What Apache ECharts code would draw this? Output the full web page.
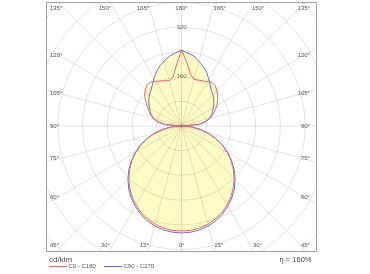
<!DOCTYPE html>
<html><head><meta charset="utf-8">
<script src="https://cdn.jsdelivr.net/npm/echarts@6/dist/echarts.min.js"></script>
<style>html,body{margin:0;padding:0;background:#fff}#c{width:370px;height:274px}</style>
</head><body><div id="c"></div>
<script>
// gamma angles (0 = down, 180 = up), step 5
const gammaDeg = [0,5,10,15,20,25,30,35,40,45,50,55,60,65,70,75,80,85,90,95,100,105,110,115,120,125,130,135,140,145,150,155,160,165,170,175,180];
// cd/klm values
const c0   = [340,339,335,329,320,309,295,279,261,241,219,196,171,145,117,89,60,31,4,54,78,95,106,117,128,142,156,166,174,174,167,161,156,152,160,195,246];
const c180 = [340,339,335,329,320,309,295,279,261,241,219,196,171,145,117,89,60,31,4,54,79,96,108,120,132,143,153,162,170,172,166,161,158,156,170,205,246];
const c90  = [346,345,341,335,326,314,300,284,266,245,223,199,174,147,119,90,61,32,4,55,78,93,104,112,120,129,138,146,153,164,178,193,206,218,229,237,246];
const c270 = [346,345,341,335,326,314,300,284,266,245,223,199,174,147,119,90,61,32,4,55,79,92,103,111,119,128,136,144,150,162,176,192,205,217,230,237,246];
const radiusTicks = [160, 320];
const angleTicks = [0,15,30,45,60,75,90,105,120,135,150,165,180];
const seriesNames = ['C0 - C180', 'C90 - C270'];
const effText = 'η = 160%';
const unitText = 'cd/klm';

const RED = '#e46a78', BLUE = '#6f6fd6', FILL = '#fffbc4', TXT = '#555';
const box = {l: 46.5, t: 2.5, r: 316.5, b: 251.5};
const cx = 181.5, cy = 126, rMax = 600, pxPerUnit = 0.309;

function closed(left, right) {
  const d = [];
  for (let i = 0; i < gammaDeg.length; i++) d.push([left[i], gammaDeg[i]]);
  for (let i = gammaDeg.length - 2; i >= 0; i--) d.push([right[i], 360 - gammaDeg[i]]);
  return d;
}
const redData = closed(c0, c180);
const blueData = closed(c90, c270);

// angle labels at the frame
const graphics = [];
const masks = [
  {x: 0, y: 0, width: 370, height: box.t},
  {x: 0, y: 0, width: box.l, height: 274},
  {x: box.r, y: 0, width: 370 - box.r, height: 274},
  {x: 0, y: box.b, width: 370, height: 274 - box.b}
];
masks.forEach(m => graphics.push({type: 'rect', shape: m, style: {fill: '#fff'}, z: 50, silent: true}));
graphics.push({type: 'rect', shape: {x: box.l, y: box.t, width: box.r - box.l, height: box.b - box.t},
  style: {fill: 'none', stroke: '#a0a0a0', lineWidth: 1}, z: 51, silent: true});

function addLabel(x, y, text, align) {
  graphics.push({type: 'text', x: x, y: y, z: 60, silent: true,
    style: {text: text, fill: TXT, font: '6px "Liberation Sans", Arial, sans-serif', textAlign: align, textVerticalAlign: 'middle'}});
}
[-1, 1].forEach(side => {
  angleTicks.forEach(g => {
    if (side === 1 && (g === 0 || g === 180)) return;
    const rad = g * Math.PI / 180;
    const dx = side * Math.sin(rad), dy = Math.cos(rad);
    const tx = Math.abs(dx) > 1e-9 ? ((dx < 0 ? box.l : box.r) - cx) / dx : Infinity;
    const ty = Math.abs(dy) > 1e-9 ? ((dy < 0 ? box.t : box.b) - cy) / dy : Infinity;
    const t = Math.min(tx, ty);
    const px = cx + dx * t, py = cy + dy * t;
    const txt = g + '°';
    if (ty <= tx) {
      const y = dy < 0 ? 8 : 245;
      if (g === 0 || g === 180) addLabel(px, y, txt, 'center');
      else if (g === 45 || g === 135) addLabel(side < 0 ? 50 : 310, y, txt, side < 0 ? 'left' : 'right');
      else addLabel(side < 0 ? px + 1 : px - 1, y, txt, side < 0 ? 'right' : 'left');
    } else {
      const off = 14 * Math.sin(Math.abs(g - 90) * Math.PI / 180) * (py < cy ? 1 : -1);
      addLabel(side < 0 ? 50 : 310, py + off, txt, side < 0 ? 'left' : 'right');
    }
  });
});
// legend & footer texts
graphics.push({type: 'text', x: 49, y: 259.5, z: 60, style: {text: unitText, fill: '#444', font: '8px "Liberation Sans", Arial, sans-serif', textVerticalAlign: 'middle'}});
graphics.push({type: 'text', x: 311.5, y: 259.5, z: 60, style: {text: effText, fill: '#444', font: '7.5px "Liberation Sans", Arial, sans-serif', textAlign: 'right', textVerticalAlign: 'middle'}});
[[49, RED, seriesNames[0]], [104, BLUE, seriesNames[1]]].forEach(([x, col, name]) => {
  graphics.push({type: 'line', z: 60, shape: {x1: x, y1: 266.5, x2: x + 18, y2: 266.5}, style: {stroke: col, lineWidth: 1}});
  graphics.push({type: 'text', x: x + 19.5, y: 266.5, z: 60, style: {text: name, fill: TXT, font: '6px "Liberation Sans", Arial, sans-serif', textVerticalAlign: 'middle'}});
});

const chart = echarts.init(document.getElementById('c'), null, {renderer: 'canvas'});
chart.setOption({
  animation: false,
  backgroundColor: '#fff',
  polar: {center: [cx, cy], radius: rMax * pxPerUnit},
  angleAxis: {
    type: 'value', min: 0, max: 360, interval: 15, startAngle: -90, clockwise: true, z: 2,
    axisLine: {show: false}, axisTick: {show: false}, axisLabel: {show: false},
    splitLine: {show: true, lineStyle: {color: 'rgba(0,0,0,0.11)', width: 1}}
  },
  radiusAxis: {
    type: 'value', min: 0, max: rMax, interval: 80, z: 2,
    axisLine: {show: false}, axisTick: {show: false}, axisLabel: {show: false},
    splitLine: {show: true, lineStyle: {color: 'rgba(0,0,0,0.11)', width: 1}}
  },
  graphic: graphics,
  series: [
    {type: 'line', name: 'fillA', coordinateSystem: 'polar', data: redData, symbol: 'none', z: 1,
      lineStyle: {width: 0}, areaStyle: {color: FILL, opacity: 1}, silent: true},
    {type: 'line', name: 'fillB', coordinateSystem: 'polar', data: blueData, symbol: 'none', z: 1,
      lineStyle: {width: 0}, areaStyle: {color: FILL, opacity: 1}, silent: true},
    {type: 'line', name: seriesNames[1], coordinateSystem: 'polar', data: blueData, symbol: 'none', z: 3,
      lineStyle: {color: BLUE, width: 1}},
    {type: 'line', name: seriesNames[0], coordinateSystem: 'polar', data: redData, symbol: 'none', z: 3,
      lineStyle: {color: RED, width: 1}},
    {type: 'scatter', coordinateSystem: 'polar', symbolSize: 0, z: 4, silent: true,
      data: radiusTicks.map(v => [v, 180]),
      label: {show: true, position: 'inside', formatter: p => String(p.value[0]), color: '#444',
        fontSize: 6, fontFamily: '"Liberation Sans", Arial, sans-serif'}}
  ]
});
</script></body></html>
